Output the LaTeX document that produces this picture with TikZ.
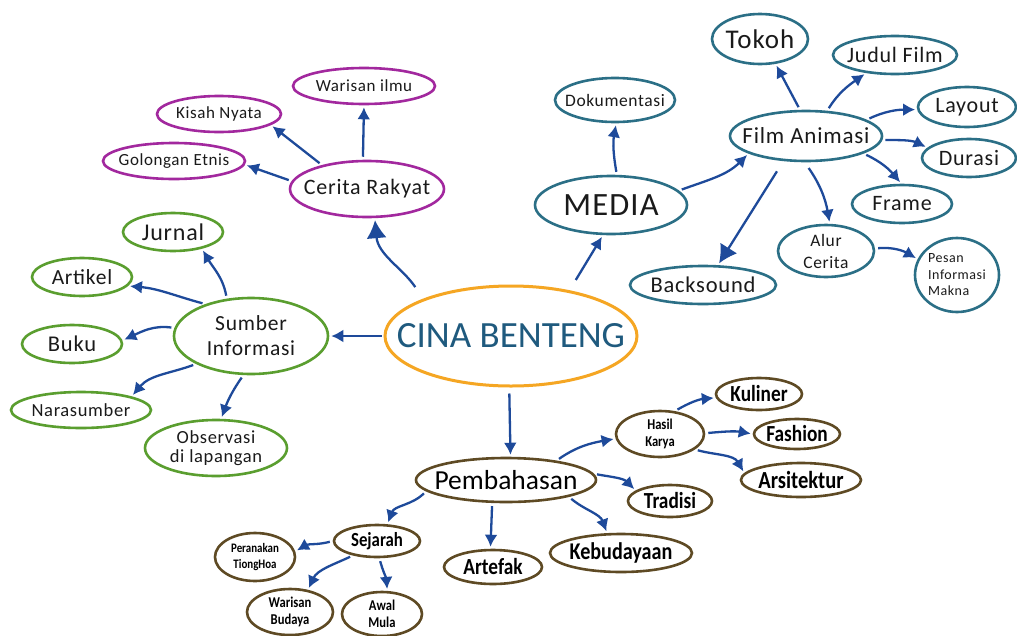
\documentclass[tikz,border=0pt]{standalone}
\usepackage{fontspec}
\setmainfont{Carlito}
\newfontfamily\spf[LetterSpace=3.5]{Carlito}
\newfontfamily\condf[FakeStretch=0.84]{Carlito}
\usetikzlibrary{shapes.geometric,arrows.meta}
\definecolor{cgreen}{HTML}{5A9E2F}
\definecolor{cpurple}{HTML}{A2289E}
\definecolor{cteal}{HTML}{2B6F86}
\definecolor{corange}{HTML}{F5A623}
\definecolor{cbrown}{HTML}{5E4A24}
\definecolor{carrow}{HTML}{1E4A9A}
\definecolor{ctext}{HTML}{1F5A7E}
\definecolor{cdark}{HTML}{1A1A1A}
\newcommand{\fsz}[2]{\fontsize{#1}{#2}\selectfont}
\begin{document}
\begin{tikzpicture}[x=1pt,y=1pt,
 el/.style={ellipse, line width=2.6pt, inner sep=0pt},
 gr/.style={el, draw=cgreen},
 pu/.style={el, draw=cpurple},
 te/.style={el, draw=cteal},
 br/.style={el, draw=cbrown},
 sz/.style 2 args={minimum width=#1, minimum height=#2},
 tx/.style={align=center, inner sep=0pt, text=cdark},
 bx/.style={align=center, inner sep=0pt, text=black},
 arr/.style={draw=carrow, line width=2.3pt, -{Latex[length=12pt,width=13pt]}, shorten <=3pt, shorten >=2pt},
 arrbig/.style={arr, -{Latex[length=18pt,width=20pt]}},
]
\useasboundingbox[fill=white] (0,0) rectangle (1017,-635);

% center
\node[el, draw=corange, line width=3pt, sz={252}{100}, label={[tx,text=ctext,font=\fsz{37}{42}]center:CINA BENTENG}] (cina) at (511,-336) {};

% Cerita Rakyat group
\node[pu, sz={154}{56}, label={[tx,font=\spf\fsz{22}{25}]center:Cerita Rakyat}] (cerita) at (367,-189) {};
\node[pu, sz={142}{36}, label={[tx,font=\spf\fsz{17}{19}]center:Warisan ilmu}] (warisan) at (364,-86) {};
\node[pu, sz={124}{36}, label={[tx,font=\spf\fsz{17}{19}]center:Kisah Nyata}] (kisah) at (219,-114) {};
\node[pu, sz={142}{36}, label={[tx,font=\spf\fsz{17}{19}]center:Golongan Etnis}] (golongan) at (174,-161) {};

% Sumber Informasi group
\node[gr, sz={154}{76}, label={[tx,font=\spf\fsz{21.5}{25}]center:Sumber\\Informasi}] (sumber) at (251,-336) {};
\node[gr, sz={100}{38}, label={[tx,font=\spf\fsz{24}{26}]center:Jurnal}] (jurnal) at (173,-232) {};
\node[gr, sz={100}{38}, label={[tx,font=\spf\fsz{21.5}{24}]center:Artikel}] (artikel) at (82,-277) {};
\node[gr, sz={100}{38}, label={[tx,font=\spf\fsz{22.5}{25}]center:Buku}] (buku) at (72,-344) {};
\node[gr, sz={140}{36}, label={[tx,font=\spf\fsz{18.5}{22}]center:Narasumber}] (narasumber) at (81,-410) {};
\node[gr, sz={142}{56}, label={[tx,font=\spf\fsz{18.5}{19.5}]center:Observasi\\di lapangan}] (observasi) at (216,-448) {};

% MEDIA group
\node[te, sz={152}{58}, label={[tx,font=\spf\fsz{32.5}{35}]center:MEDIA}] (media) at (611,-205) {};
\node[te, sz={120}{44}, label={[tx,font=\spf\fsz{17.5}{20}]center:Dokumentasi}] (doku) at (615,-100) {};
\node[te, sz={152}{50}, label={[tx,font=\spf\fsz{23}{26}]center:Film Animasi}] (film) at (806,-136) {};
\node[te, sz={96}{50}, label={[tx,font=\spf\fsz{27}{30}]center:Tokoh}] (tokoh) at (760,-39) {};
\node[te, sz={124}{38}, label={[tx,font=\spf\fsz{22}{25}]center:Judul Film}] (judul) at (895,-55) {};
\node[te, sz={98}{40}, label={[tx,font=\spf\fsz{22}{25}]center:Layout}] (layout) at (967,-107) {};
\node[te, sz={94}{38}, label={[tx,font=\spf\fsz{22}{25}]center:Durasi}] (durasi) at (969,-158) {};
\node[te, sz={100}{38}, label={[tx,font=\spf\fsz{22}{25}]center:Frame}] (frame) at (902,-204) {};
\node[te, sz={96}{52}, label={[tx,font=\spf\fsz{17.5}{22}]center:Alur\\Cerita}] (alur) at (826,-251) {};
\node[te, sz={84}{74}, label={[tx,align=left,font=\spf\fsz{14}{16.5}]center:Pesan\\Informasi\\Makna}] (pesan) at (957,-275) {};
\node[te, sz={146}{38}, label={[tx,font=\spf\fsz{22.5}{26}]center:Backsound}] (backsound) at (703,-285) {};

% Pembahasan group
\node[br, sz={180}{44}, label={[bx,font=\fsz{27.5}{31}]center:Pembahasan}] (pemb) at (506,-480) {};
\node[br, sz={88}{46}, label={[bx,font=\condf\bfseries\fsz{15}{17}]center:Hasil\\Karya}] (hasil) at (660,-434) {};
\node[br, sz={86}{32}, label={[bx,font=\condf\bfseries\fsz{23}{26}]center:Kuliner}] (kuliner) at (759,-394) {};
\node[br, sz={86}{30}, label={[bx,font=\condf\bfseries\fsz{23}{26}]center:Fashion}] (fashion) at (797,-434) {};
\node[br, sz={120}{34}, label={[bx,font=\condf\bfseries\fsz{24.5}{27}]center:Arsitektur}] (arsitektur) at (801,-480) {};
\node[br, sz={84}{32}, label={[bx,font=\condf\bfseries\fsz{23}{26}]center:Tradisi}] (tradisi) at (670,-501) {};
\node[br, sz={142}{38}, label={[bx,font=\condf\bfseries\fsz{24}{27}]center:Kebudayaan}] (kebud) at (621,-553) {};
\node[br, sz={98}{34}, label={[bx,font=\condf\bfseries\fsz{23}{26}]center:Artefak}] (artefak) at (493,-567) {};
\node[br, sz={86}{32}, label={[bx,font=\condf\bfseries\fsz{20}{24}]center:Sejarah}] (sejarah) at (377,-541) {};
\node[br, sz={80}{48}, label={[bx,font=\condf\bfseries\fsz{13}{16}]center:Peranakan\\TiongHoa}] (peranakan) at (255,-557) {};
\node[br, sz={86}{46}, label={[bx,font=\condf\bfseries\fsz{15}{17}]center:Warisan\\Budaya}] (warisanb) at (290,-612) {};
\node[br, sz={80}{44}, label={[bx,font=\condf\bfseries\fsz{15}{17}]center:Awal\\Mula}] (awal) at (382,-614) {};

% connectors: centre
\draw[arr, shorten <=2pt] (cina.180) -- (sumber.0);
\draw[arrbig, shorten <=14pt] (cina.157) to[out=124,in=275] (cerita.285);
\draw[arr, shorten <=12pt] (cina.38) -- (media.255);
\draw[arr, shorten <=6pt] (cina.268) -- (pemb.79);

% Cerita Rakyat
\draw[arr] (cerita.98) -- (warisan.270);
\draw[arr] (cerita.152) -- (kisah.348);
\draw[arr] (cerita.174) -- (golongan.357);

% Sumber Informasi
\draw[arr] (sumber.123) to[out=100,in=300] (jurnal.330);
\draw[arr] (sumber.145) to[out=165,in=355] (artikel.349);
\draw[arr] (sumber.174) to[out=172,in=25] (buku.4);
\draw[arr] (sumber.207) to[out=200,in=50] (narasumber.15);
\draw[arr] (sumber.259) to[out=235,in=70] (observasi.80);

% MEDIA
\draw[arr] (media.79) to[out=100,in=260] (doku.273);
\draw[arr] (media.12) to[out=20,in=225] (film.197);
\draw[arr] (film.103) -- (tokoh.302);
\draw[arr] (film.50) to[out=58,in=215] (judul.212);
\draw[arr] (film.15) to[out=25,in=180] (layout.183);
\draw[arr] (film.357) to[out=0,in=155] (durasi.166);
\draw[arr] (film.343) to[out=-25,in=130] (frame.92);
\draw[arr, shorten <=7pt] (film.267) to[out=-55,in=100] (alur.82);
\draw[arrbig, shorten <=12pt] (film.228) -- (backsound.53);
\draw[arr] (alur.3) to[out=5,in=150] (pesan.158);

% Pembahasan
\draw[arr] (pemb.21) to[out=35,in=190] (hasil.186);
\draw[arr] (hasil.57) to[out=30,in=185] (kuliner.185);
\draw[arr] (hasil.1) to[out=5,in=170] (fashion.180);
\draw[arr] (hasil.336) to[out=-15,in=120] (arsitektur.173);
\draw[arr] (pemb.4) to[out=-10,in=135] (tradisi.163);
\draw[arr] (pemb.345) to[out=-40,in=110] (kebud.125);
\draw[arr] (pemb.239) -- (artefak.98);
\draw[arr] (pemb.188) to[out=225,in=70] (sejarah.58);
\draw[arr] (sejarah.180) to[out=195,in=30] (peranakan.8);
\draw[arr] (sejarah.211) to[out=205,in=65] (warisanb.51);
\draw[arr] (sejarah.278) to[out=-75,in=95] (awal.77);
\end{tikzpicture}
\end{document}
